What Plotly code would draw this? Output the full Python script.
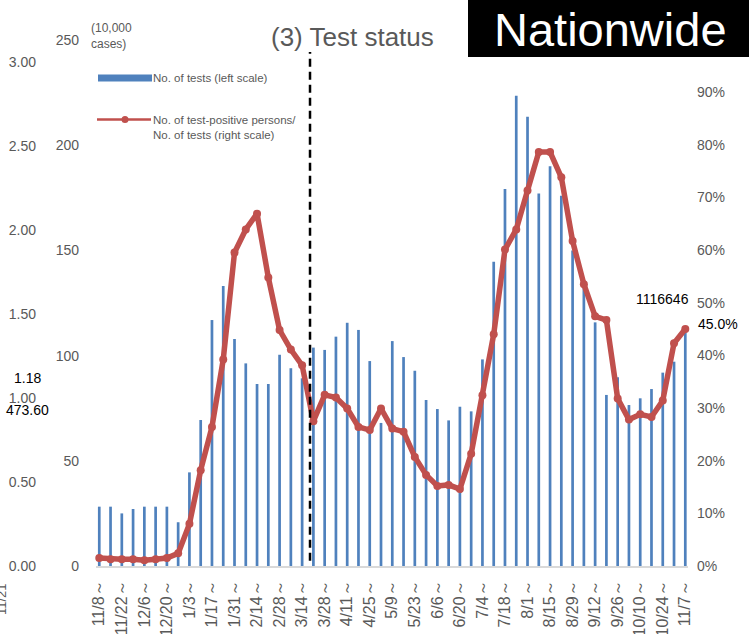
import plotly.graph_objects as go

# ---------------- data ----------------
week_labels = ["11/8", "11/15", "11/22", "11/29", "12/6", "12/13", "12/20", "12/27",
               "1/3", "1/10", "1/17", "1/24", "1/31", "2/7", "2/14", "2/21", "2/28",
               "3/7", "3/14", "3/21", "3/28", "4/4", "4/11", "4/18", "4/25", "5/2",
               "5/9", "5/16", "5/23", "5/30", "6/6", "6/13", "6/20", "6/27", "7/4",
               "7/11", "7/18", "7/25", "8/1", "8/8", "8/15", "8/22", "8/29", "9/5",
               "9/12", "9/19", "9/26", "10/3", "10/10", "10/17", "10/24", "10/31", "11/7"]

# number of tests (10,000 cases), left scale
tests = [28.2, 28.2, 25.0, 27.1, 28.2, 28.2, 28.2, 20.8, 44.5, 69.4, 116.9, 133.1,
         107.9, 96.3, 86.5, 86.5, 100.4, 94.0, 89.2, 103.8, 102.7, 109.0, 115.6,
         112.2, 97.4, 68.0, 106.9, 99.3, 92.8, 78.9, 74.6, 69.2, 75.7, 73.5, 98.2,
         144.6, 179.2, 223.5, 213.5, 177.0, 190.0, 176.0, 150.0, 134.4, 115.8, 81.3,
         89.7, 76.5, 79.7, 84.1, 91.9, 97.1, 111.6646]

# positivity rate (%), right scale
positivity = [1.5, 1.3, 1.3, 1.3, 1.1, 1.3, 1.5, 2.4, 8.0, 18.2, 26.4, 39.2, 59.5,
              63.9, 66.9, 54.8, 44.8, 41.1, 38.1, 27.5, 32.5, 32.0, 29.9, 26.4, 25.8,
              29.9, 26.1, 25.5, 20.7, 17.3, 15.2, 15.4, 14.6, 21.3, 32.4, 44.0, 60.1,
              63.9, 71.3, 78.6, 78.6, 73.8, 61.7, 53.5, 47.4, 46.7, 31.8, 27.8, 28.8,
              28.3, 31.4, 42.3, 45.0]

left_ticks = [0, 50, 100, 150, 200, 250]
right_ticks = [0, 10, 20, 30, 40, 50, 60, 70, 80, 90]
outer_ticks = [0.0, 0.5, 1.0, 1.5, 2.0, 2.5, 3.0]
divider_index = 18.7

# ---------------- layout helpers ----------------
W, H = 749, 634
ML, MR, MT, MB = 10, 61, 40, 68
PW, PH = W - ML - MR, H - MT - MB


def px(x):
    return (x - ML) / PW


def py(y):
    return (H - MB - y) / PH


idx = list(range(len(week_labels)))
tick_idx = idx[::2]
tick_txt = [week_labels[i] + "～" for i in tick_idx]

GRAY = "#595959"
BLUE = "#4f81bd"
RED = "#c0504d"
FONT = "Liberation Sans, Arial, sans-serif"

fig = go.Figure()
fig.add_trace(go.Bar(x=idx, y=tests, width=0.24, marker=dict(color=BLUE, line=dict(width=0)),
                     name="No. of tests (left scale)", yaxis="y", showlegend=False))
fig.add_trace(go.Scatter(x=idx, y=[v / 100 for v in positivity], mode="lines+markers",
                         line=dict(color=RED, width=5.5), marker=dict(color=RED, size=8),
                         name="No. of test-positive persons/ No. of tests (right scale)",
                         yaxis="y2", showlegend=False, cliponaxis=False))
# carrier trace so the outer (0.00-3.00) scale is drawn
fig.add_trace(go.Scatter(x=[0], y=[0], mode="markers", marker=dict(opacity=0),
                         yaxis="y3", showlegend=False, hoverinfo="skip"))

fig.update_layout(
    width=W, height=H,
    margin=dict(l=ML, r=MR, t=MT, b=MB, autoexpand=False),
    paper_bgcolor="white", plot_bgcolor="white",
    font=dict(family=FONT, color=GRAY, size=14),
    xaxis=dict(domain=[px(96), 1], range=[-0.29, 52.24], tickmode="array",
               tickvals=tick_idx, ticktext=tick_txt, tickangle=-90, automargin=False,
               showline=True, linecolor="#d9d9d9", linewidth=2, showgrid=False,
               zeroline=False, ticks="", ticklabelstandoff=6,
               tickfont=dict(size=16, color=GRAY)),
    yaxis=dict(range=[0, 250], tickvals=left_ticks, showgrid=False, zeroline=False,
               showline=False, ticks="", ticklabelstandoff=16, automargin=False,
               tickfont=dict(size=14, color=GRAY)),
    yaxis2=dict(range=[0, 0.9987], tickvals=[t / 100 for t in right_ticks],
                ticktext=[f"{t}%" for t in right_ticks], overlaying="y", side="right",
                showgrid=False, zeroline=False, showline=False, ticks="",
                automargin=False, ticklabelstandoff=8,
                tickfont=dict(size=14, color=GRAY)),
    yaxis3=dict(range=[0, 3.131], tickvals=outer_ticks,
                ticktext=[f"{t:.2f}" for t in outer_ticks], overlaying="y",
                anchor="free", position=px(36), side="left", showgrid=False,
                zeroline=False, showline=False, ticks="", automargin=False,
                tickfont=dict(size=14, color=GRAY)),
)

shapes = [
    dict(type="line", xref="x", yref="paper", x0=divider_index, x1=divider_index,
         y0=0.01, y1=py(52), line=dict(color="black", width=2.5, dash="8px,5px")),
    dict(type="rect", xref="paper", yref="paper", x0=px(468), x1=px(749 + 5),
         y0=py(57), y1=py(-5), fillcolor="black", line=dict(width=0), layer="above"),
    # legend samples
    dict(type="rect", xref="paper", yref="paper", x0=px(98), x1=px(152),
         y0=py(81.5), y1=py(74.5), fillcolor=BLUE, line=dict(width=0)),
    dict(type="line", xref="paper", yref="paper", x0=px(97), x1=px(151),
         y0=py(119.5), y1=py(119.5), line=dict(color=RED, width=2.5)),
    dict(type="circle", xref="paper", yref="paper", x0=px(121.5), x1=px(128.5),
         y0=py(123), y1=py(116), fillcolor=RED, line=dict(width=0)),
]
fig.update_layout(shapes=shapes)

ann = []


def add(text, x, y, size, color=GRAY, xanchor="center", yanchor="middle", angle=0):
    ann.append(dict(text=text, x=px(x), y=py(y), xref="paper", yref="paper",
                    showarrow=False, font=dict(size=size, color=color, family=FONT),
                    xanchor=xanchor, yanchor=yanchor, textangle=angle, align="left"))


add("(3) Test status", 352, 37, 26)
add("Nationwide", 610, 29, 47, color="white")
add("(10,000<br>cases)", 89, 36, 12, xanchor="left")
add("No. of tests (left scale)", 151, 78, 11.5, xanchor="left")
add("No. of test-positive persons/<br>No. of tests (right scale)", 151, 127, 11.5,
    xanchor="left")
add("1.18", 27, 378, 14, color="black")
add("473.60", 27, 410, 14, color="black")
add("1116646", 662, 299, 14, color="black")
add("45.0%", 718, 324, 14, color="black")
add("11/21", 1, 599, 13, angle=-90)
fig.update_layout(annotations=ann)

fig.write_html("out.html", config={"displayModeBar": False},
               post_script="document.body.style.margin='0px';")
